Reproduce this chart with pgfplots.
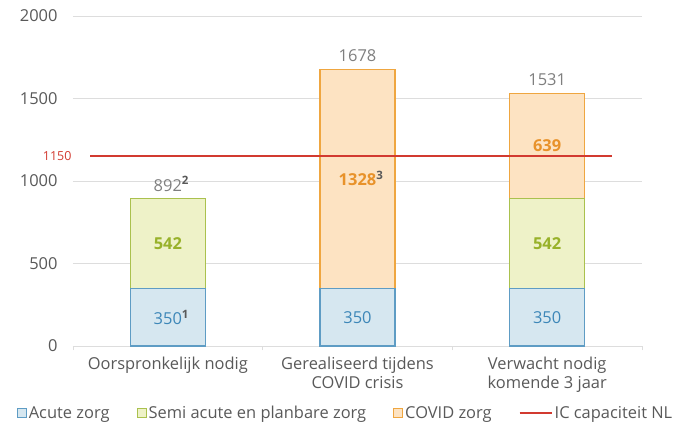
\documentclass[border=0pt]{standalone}
\usepackage{pgfplots}
\pgfplotsset{compat=1.18}
\usepackage{fontspec}
\setmainfont{Open Sans}

\definecolor{acutefill}{HTML}{D6E7F0}
\definecolor{acuteline}{HTML}{5E9CC4}
\definecolor{acutetext}{HTML}{3D87B8}
\definecolor{semifill}{HTML}{EEF2C8}
\definecolor{semiline}{HTML}{AAC14E}
\definecolor{semitext}{HTML}{98B22A}
\definecolor{covidfill}{HTML}{FDE3C2}
\definecolor{covidline}{HTML}{EFA640}
\definecolor{covidtext}{HTML}{E8922A}
\definecolor{icred}{HTML}{D23A30}
\definecolor{textgray}{HTML}{595959}
\definecolor{totalgray}{HTML}{7F7F7F}
\definecolor{gridgray}{HTML}{DDDDDD}

\pgfplotsset{
  sqlegend/.style={legend image code/.code={\draw[##1,line width=1pt] (0bp,-4.5bp) rectangle (9bp,4.5bp);}},
  lnlegend/.style={legend image code/.code={\draw[##1] (0bp,0bp) -- (32bp,0bp);}},
}
\newcommand{\fnote}[1]{\rlap{\textcolor{textgray}{\textsuperscript{\bfseries #1}}}}

\begin{document}
\begin{tikzpicture}
\begin{axis}[
  scale only axis,
  width=569bp, height=330bp,
  xmin=-0.5, xmax=2.5,
  ymin=0, ymax=2000,
  ytick={0,500,1000,1500,2000},
  extra y ticks={1150},
  extra y tick labels={1150},
  extra y tick style={grid=none, tick style={draw=none},
    yticklabel style={text=icred, font=\fontsize{12.5}{14}\selectfont, xshift=14bp}},
  xtick={0,1,2},
  xticklabels={Oorspronkelijk nodig, {Gerealiseerd tijdens\\COVID crisis}, {Verwacht nodig\\komende 3 jaar}},
  minor xtick={-0.5,0.5,1.5,2.5},
  xtick pos=bottom,
  tick align=outside,
  major tick length=0bp,
  minor tick length=4bp,
  minor tick style={gridgray, line width=0.8pt},
  ymajorgrids,
  grid style={gridgray, line width=0.8pt},
  axis line style={draw=none},
  /pgf/number format/assume math mode=true,
  /pgf/number format/1000 sep={},
  tick label style={text=textgray},
  yticklabel style={font=\fontsize{16.5}{18}\selectfont, xshift=-12bp},
  xticklabel style={font=\fontsize{16.5}{20}\selectfont, align=center, yshift=-7bp},
  legend style={at={(0.479,-0.203)}, anchor=center, draw=none, fill=none,
    legend columns=4, font=\fontsize{16.5}{18}\selectfont, text=textgray,
    /tikz/every even column/.append style={column sep=25bp},
    nodes={inner sep=2bp}},
  legend cell align=left,
]
\addlegendimage{sqlegend, draw=acuteline, fill=acutefill}
\addlegendentry{Acute zorg}
\addlegendimage{sqlegend, draw=semiline, fill=semifill}
\addlegendentry{Semi acute en planbare zorg}
\addlegendimage{sqlegend, draw=covidline, fill=covidfill}
\addlegendentry{COVID zorg}
\addlegendimage{lnlegend, icred, line width=2pt}
\addlegendentry{IC capaciteit NL}

% bars drawn from the top of each stack down, overlapping
\addplot[forget plot, ybar, bar shift=0pt, bar width=75bp, draw=covidline, fill=covidfill, line width=1.2pt]
  coordinates {(1,1678) (2,1531)};
\addplot[forget plot, ybar, bar shift=0pt, bar width=75bp, draw=semiline, fill=semifill, line width=1.2pt]
  coordinates {(0,892) (2,892)};
\addplot[forget plot, ybar, bar shift=0pt, bar width=75bp, draw=acuteline, fill=acutefill, line width=1.2pt]
  coordinates {(0,350) (1,350) (2,350)};

% IC capacity line
\addplot[forget plot, icred, line width=2pt] coordinates {(-0.41,1150) (2.34,1150)};

% segment labels
\addplot[forget plot, only marks, mark=none, point meta=explicit symbolic, nodes near coords,
  nodes near coords style={anchor=center, text=acutetext, font=\fontsize{16.5}{18}\selectfont}]
  coordinates {(0,175) [350\fnote{1}] (1,175) [350] (2,175) [350]};
\addplot[forget plot, only marks, mark=none, point meta=explicit symbolic, nodes near coords,
  nodes near coords style={anchor=center, text=semitext, font=\fontsize{16.5}{18}\selectfont\bfseries}]
  coordinates {(0,621) [542] (2,621) [542]};
\addplot[forget plot, only marks, mark=none, point meta=explicit symbolic, nodes near coords,
  nodes near coords style={anchor=center, text=covidtext, font=\fontsize{16.5}{18}\selectfont\bfseries}]
  coordinates {(1,1014) [1328\fnote{3}] (2,1211.5) [639]};
\addplot[forget plot, only marks, mark=none, point meta=explicit symbolic, nodes near coords,
  nodes near coords style={anchor=south, yshift=4bp, text=totalgray, font=\fontsize{16.5}{18}\selectfont}]
  coordinates {(0,892) [892\fnote{2}] (1,1678) [1678] (2,1531) [1531]};
\end{axis}
\pgfresetboundingbox
\path (-73bp,-83bp) rectangle (608bp,346bp);
\end{tikzpicture}
\end{document}
